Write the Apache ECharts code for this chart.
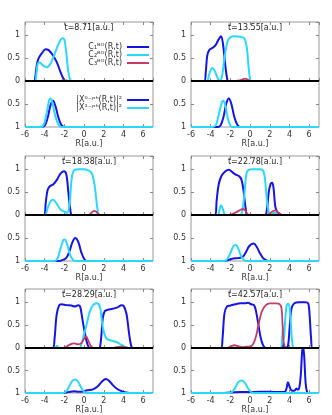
<!DOCTYPE html>
<html>
<head>
<meta charset="utf-8">
<script src="https://cdn.jsdelivr.net/npm/echarts@6/dist/echarts.min.js"></script>
<style>html,body{margin:0;padding:0;background:#fff}#main{width:332px;height:415px}</style>
</head>
<body>
<div id="main"></div>
<script>
// times of the six snapshots
const times = ['8.71', '13.55', '18.38', '22.78', '28.29', '42.57'];
const xTicks = [-6, -4, -2, 0, 2, 4, 6];

// C1^BO(R,t) per snapshot, [R, value]
const c1Curves = [
  [[-6,0],[-5.1,0],[-4.95,0.1],[-4.8,0.35],[-4.6,0.5],[-4.3,0.6],[-3.9,0.69],[-3.6,0.67],[-3.2,0.57],[-2.8,0.42],[-2.4,0.2],[-2.1,0.05],[-1.9,0],[7,0]],
  [[-6,0],[-4.65,0],[-4.5,0.2],[-4.35,0.55],[-4.15,0.67],[-3.8,0.72],[-3.5,0.78],[-3.2,0.9],[-2.95,0.97],[-2.75,0.8],[-2.55,0.4],[-2.35,0.08],[-2.2,0],[7,0]],
  [[-6,0],[-4.05,0],[-3.9,0.25],[-3.7,0.55],[-3.45,0.63],[-3.15,0.66],[-2.8,0.75],[-2.4,0.9],[-2.05,0.95],[-1.8,0.88],[-1.6,0.5],[-1.4,0.12],[-1.2,0],[7,0]],
  [[-6,0],[-3.55,0],[-3.4,0.3],[-3.2,0.65],[-2.9,0.85],[-2.5,0.95],[-2.15,0.98],[-1.8,0.93],[-1.5,0.88],[-1.1,0.84],[-0.85,0.75],[-0.65,0.5],[-0.45,0.15],[-0.25,0],[1.5,0],[1.7,0.1],[1.9,0.5],[2.1,0.68],[2.25,0.7],[2.4,0.55],[2.55,0.2],[2.75,0.07],[3.0,0.03],[3.2,0],[7,0]],
  [[-6,0],[-3.2,0],[-3.0,0.2],[-2.8,0.7],[-2.55,0.92],[-2.3,0.95],[-1.8,0.93],[-1.3,0.92],[-0.95,0.9],[-0.6,0.93],[-0.4,0.9],[-0.15,0.6],[0.1,0.3],[0.35,0.08],[0.6,0],[1.5,0],[1.7,0.15],[1.9,0.65],[2.1,0.8],[2.4,0.83],[2.9,0.85],[3.4,0.88],[3.8,0.93],[4.0,0.92],[4.3,0.75],[4.55,0.35],[4.75,0.08],[4.95,0],[7,0]],
  [[-6,0],[-2.95,0],[-2.8,0.2],[-2.6,0.75],[-2.35,0.9],[-2.0,0.92],[-1.5,0.95],[-1.0,0.97],[-0.5,0.97],[-0.2,0.98],[0.1,0.95],[0.4,0.93],[0.6,0.8],[0.85,0.5],[1.1,0.2],[1.35,0.05],[1.6,0],[3.2,0],[3.35,0.1],[3.45,0.02],[3.6,0],[3.85,0.05],[4.0,0.4],[4.2,0.85],[4.5,0.97],[5.0,0.99],[5.6,0.99],[5.9,0.97],[6.05,0.7],[6.2,0.2],[6.35,0],[7,0]]
];

// C2^BO(R,t)
const c2Curves = [
  [[-6,0],[-5.0,0],[-4.85,0.15],[-4.7,0.38],[-4.5,0.4],[-4.2,0.34],[-3.8,0.3],[-3.4,0.38],[-3.0,0.58],[-2.6,0.8],[-2.2,0.93],[-2.0,0.9],[-1.8,0.6],[-1.6,0.2],[-1.4,0.02],[-1.2,0],[7,0]],
  [[-6,0],[-4.4,0],[-4.15,0.15],[-3.85,0.28],[-3.6,0.22],[-3.3,0.07],[-3.05,0],[-2.85,0.1],[-2.6,0.5],[-2.3,0.85],[-2.0,0.95],[-1.6,0.97],[-1.0,0.96],[-0.6,0.93],[-0.35,0.75],[-0.15,0.3],[0,0.03],[0.1,0],[7,0]],
  [[-6,0],[-4.0,0],[-3.7,0.15],[-3.4,0.3],[-3.15,0.33],[-2.8,0.25],[-2.4,0.12],[-2.0,0.07],[-1.7,0.05],[-1.45,0.3],[-1.25,0.8],[-1.0,0.97],[-0.5,0.99],[0,0.99],[0.4,0.97],[0.8,0.9],[1.1,0.6],[1.35,0.15],[1.6,0],[7,0]],
  [[-6,0],[-3.3,0],[-3.1,0.12],[-2.95,0.21],[-2.8,0.15],[-2.6,0.02],[-2.5,0],[-1.0,0],[-0.8,0.08],[-0.6,0.4],[-0.4,0.85],[-0.2,0.97],[0.3,0.99],[0.9,0.99],[1.3,0.97],[1.5,0.8],[1.7,0.35],[1.9,0.06],[2.1,0],[2.5,0.05],[2.8,0],[7,0]],
  [[-6,0],[-2.95,0],[-2.75,0.05],[-2.55,0],[-0.5,0],[-0.25,0.1],[0,0.3],[0.3,0.55],[0.6,0.8],[0.9,0.93],[1.3,0.97],[1.6,0.9],[1.8,0.6],[2.0,0.35],[2.3,0.2],[2.8,0.16],[3.3,0.13],[3.7,0.08],[4.1,0.03],[4.5,0],[7,0]],
  [[-6,0],[3.1,0],[3.25,0.2],[3.35,0.45],[3.45,0.2],[3.55,0.55],[3.7,0.9],[3.85,0.96],[4.0,0.9],[4.15,0.5],[4.3,0.1],[4.45,0],[7,0]]
];

// C3^BO(R,t)
const c3Curves = [
  [[-6,0],[-2.5,0],[-2,0.02],[-1.5,0],[7,0]],
  [[-6,0],[-1.8,0],[-1.2,0.01],[-0.8,0.03],[-0.5,0.05],[-0.25,0.03],[0,0],[7,0]],
  [[-6,0],[0.4,0],[0.7,0.04],[1.0,0.09],[1.25,0.07],[1.5,0.01],[1.7,0],[7,0]],
  [[-6,0],[-2.2,0],[-1.8,0.02],[-1.4,0.06],[-1.0,0.11],[-0.75,0.13],[-0.5,0.1],[-0.3,0.03],[-0.1,0],[1.6,0],[2.0,0.03],[2.3,0.08],[2.55,0.1],[2.8,0.06],[3.1,0.01],[3.3,0],[7,0]],
  [[-6,0],[-2.2,0],[-1.8,0.03],[-1.4,0.08],[-1.0,0.1],[-0.6,0.08],[-0.3,0.1],[0,0.2],[0.2,0.25],[0.45,0.15],[0.7,0.04],[1.0,0],[2.8,0],[3.3,0.02],[3.8,0.03],[4.3,0.01],[4.6,0],[7,0]],
  [[-6,0],[-2.4,0],[-2.0,0.03],[-1.6,0.06],[-1.2,0.04],[-0.8,0.02],[-0.4,0.03],[0,0.03],[0.3,0.08],[0.6,0.25],[0.9,0.55],[1.2,0.8],[1.6,0.93],[2.0,0.97],[2.6,0.97],[3.0,0.95],[3.2,0.85],[3.3,0.5],[3.4,0.15],[3.55,0.02],[3.7,0],[7,0]]
];

// |X^0-ph(R,t)|^2
const x0Curves = [
  [[-6,0],[-4.4,0],[-4.0,0.03],[-3.7,0.2],[-3.4,0.48],[-3.15,0.57],[-2.9,0.45],[-2.6,0.2],[-2.3,0.04],[-2.0,0],[7,0]],
  [[-6,0],[-3.3,0],[-3.0,0.03],[-2.7,0.22],[-2.4,0.52],[-2.15,0.62],[-1.9,0.5],[-1.6,0.22],[-1.3,0.05],[-1.0,0],[7,0]],
  [[-6,0],[-2.6,0],[-2.2,0.02],[-1.8,0.07],[-1.5,0.2],[-1.2,0.4],[-0.9,0.5],[-0.6,0.42],[-0.3,0.2],[0,0.05],[0.3,0],[7,0]],
  [[-6,0],[-2.6,0],[-2.2,0.02],[-1.8,0.05],[-1.4,0.06],[-1.0,0.07],[-0.7,0.1],[-0.4,0.2],[-0.1,0.32],[0.35,0.38],[0.7,0.3],[1.0,0.17],[1.3,0.07],[1.6,0.02],[1.9,0],[7,0]],
  [[-6,0],[-2.2,0],[-1.6,0.02],[-1.0,0.04],[-0.6,0.03],[-0.2,0.03],[0.3,0.06],[0.9,0.08],[1.4,0.15],[1.8,0.25],[2.2,0.31],[2.5,0.28],[2.9,0.18],[3.3,0.1],[3.8,0.04],[4.3,0.01],[4.6,0],[7,0]],
  [[-6,0],[-3,0],[-2,0.01],[-1,0.02],[0,0.02],[1,0.03],[2,0.03],[3,0.02],[3.5,0.02],[3.7,0.1],[3.85,0.24],[4.0,0.15],[4.2,0.06],[4.5,0.05],[4.7,0.1],[4.85,0.07],[5.0,0.12],[5.15,0.4],[5.3,0.95],[5.4,1.0],[5.5,0.8],[5.65,0.2],[5.8,0.02],[6.0,0],[7,0]]
];

// |X^1-ph(R,t)|^2
const x1Curves = [
  [[-6,0],[-4.5,0],[-4.1,0.05],[-3.8,0.3],[-3.55,0.58],[-3.4,0.62],[-3.2,0.5],[-2.9,0.22],[-2.6,0.05],[-2.3,0],[7,0]],
  [[-6,0],[-3.8,0],[-3.45,0.05],[-3.15,0.3],[-2.85,0.55],[-2.7,0.57],[-2.5,0.45],[-2.25,0.18],[-2.0,0.03],[-1.8,0],[7,0]],
  [[-6,0],[-3.0,0],[-2.7,0.05],[-2.4,0.27],[-2.1,0.46],[-1.95,0.47],[-1.7,0.35],[-1.4,0.12],[-1.1,0.02],[-0.9,0],[7,0]],
  [[-6,0],[-2.6,0],[-2.3,0.05],[-2.0,0.17],[-1.7,0.32],[-1.45,0.35],[-1.2,0.27],[-0.9,0.1],[-0.6,0.02],[-0.4,0],[7,0]],
  [[-6,0],[-2.1,0],[-1.8,0.04],[-1.5,0.15],[-1.2,0.27],[-0.9,0.3],[-0.6,0.25],[-0.3,0.12],[0,0.03],[0.3,0],[7,0]],
  [[-6,0],[-2.1,0],[-1.8,0.03],[-1.5,0.12],[-1.2,0.24],[-0.85,0.28],[-0.5,0.22],[-0.2,0.1],[0.1,0.02],[0.4,0],[7,0]]
];

const BLUE = '#1414e6', CYAN = '#2ad8ff', RED = '#c83a64';
const FONT = 'DejaVu Sans';
const names = {
  c1: 'C\u2081\u1D2E\u1D3C(R,t)',
  c2: 'C\u2082\u1D2E\u1D3C(R,t)',
  c3: 'C\u2083\u1D2E\u1D3C(R,t)',
  x0: '|X\u2070\u207B\u1D56\u02B0(R,t)|\u00B2',
  x1: '|X\u00B9\u207B\u1D56\u02B0(R,t)|\u00B2'
};

// layout
const colLeft = [25, 191], plotW = 128;
const rowTop = [22, 156, 289], topH = 59, botH = 46;

const grid = [], xAxis = [], yAxis = [], series = [], graphic = [];

function addX(gi, pos, labels, name) {
  xAxis.push({
    type: 'value', gridIndex: gi, position: pos, min: -6, max: 7, interval: 2,
    axisLine: { show: false, onZero: false }, splitLine: { show: false },
    axisTick: { show: true, inside: true, length: 3, lineStyle: { color: '#888' } },
    axisLabel: { show: labels, showMaxLabel: false, fontSize: 8, color: '#333', fontFamily: FONT, margin: 4 },
    name: name, nameLocation: 'middle', nameGap: 13,
    nameTextStyle: { fontSize: 8, color: '#333', fontFamily: FONT }
  });
  return xAxis.length - 1;
}
function addY(gi, pos, labels, max, inverse) {
  yAxis.push({
    type: 'value', gridIndex: gi, position: pos, min: 0, max: max, interval: 0.5, inverse: inverse,
    axisLine: { show: false, onZero: false }, splitLine: { show: false },
    axisTick: { show: true, inside: true, length: 3, lineStyle: { color: '#888' } },
    axisLabel: {
      show: labels, fontSize: 8, color: '#333', fontFamily: FONT, margin: 5,
      showMinLabel: !inverse, showMaxLabel: inverse,
      formatter: v => (v === 0 || v === 0.5 || v === 1) ? String(v) : ''
    }
  });
  return yAxis.length - 1;
}
function line(name, color, data, xi, yi, w, z) {
  series.push({
    type: 'line', name: name, xAxisIndex: xi, yAxisIndex: yi, data: data,
    showSymbol: false, smooth: 0.35, color: color, z: z || 2,
    lineStyle: { color: color, width: w }, silent: true, animation: false
  });
}

times.forEach((t, i) => {
  const left = colLeft[i % 2], top = rowTop[Math.floor(i / 2)];
  // upper part: C coefficients
  grid.push({ left: left, top: top, width: plotW, height: topH, show: true, borderColor: '#999', borderWidth: 1 });
  const gTop = grid.length - 1;
  const xb = addX(gTop, 'bottom', false, '');
  addX(gTop, 'top', false, '');
  const yl = addY(gTop, 'left', true, 1.28, false);
  addY(gTop, 'right', false, 1.28, false);
  line(names.c1, BLUE, c1Curves[i], xb, yl, 2);
  line(names.c2, CYAN, c2Curves[i], xb, yl, 2);
  line(names.c3, RED, c3Curves[i], xb, yl, 1.8);
  series.push({
    type: 'line', xAxisIndex: xb, yAxisIndex: yl, data: [[-6, 0], [7, 0]], showSymbol: false,
    lineStyle: { color: '#000', width: 2 }, z: 5, silent: true, animation: false
  });
  // lower part: densities, inverted axis
  grid.push({ left: left, top: top + topH, width: plotW, height: botH, show: true, borderColor: '#999', borderWidth: 1 });
  const gBot = grid.length - 1;
  const xb2 = addX(gBot, 'bottom', true, 'R[a.u.]');
  const yl2 = addY(gBot, 'left', true, 1, true);
  addY(gBot, 'right', false, 1, true);
  line(names.x0, BLUE, x0Curves[i].map(p => [p[0], 1 - p[1]]), xb2, yl2, 2);
  line(names.x1, CYAN, x1Curves[i].map(p => [p[0], 1 - p[1]]), xb2, yl2, 2);
  graphic.push({
    type: 'text', x: left + plotW / 2, y: top + 2,
    style: { text: 't=' + t + '[a.u.]', font: '8px "' + FONT + '"', fill: '#222', textAlign: 'center', textVerticalAlign: 'top' }
  });
});

const legendBase = {
  orient: 'vertical', align: 'right', right: 332 - 149, itemWidth: 22, itemHeight: 2,
  itemGap: 0, icon: 'rect', padding: 0, selectedMode: false,
  textStyle: { fontSize: 8, lineHeight: 6.6, color: '#333', fontFamily: FONT, padding: [0, 0, 0, 0] }
};

const chart = echarts.init(document.getElementById('main'), null, { renderer: 'canvas' });
chart.setOption({
  animation: false,
  backgroundColor: '#fff',
  grid: grid, xAxis: xAxis, yAxis: yAxis, series: series,
  graphic: graphic,
  legend: [
    Object.assign({}, legendBase, { top: 43, data: [names.c1, names.c2, names.c3] }),
    Object.assign({}, legendBase, { top: 96, data: [names.x0, names.x1] })
  ]
});
</script>
</body>
</html>
